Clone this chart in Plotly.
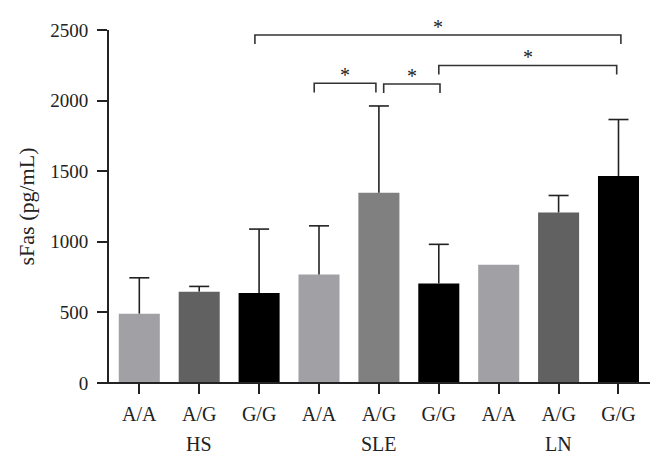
import plotly.graph_objects as go

# ---- data ----
genotypes = ["A/A", "A/G", "G/G", "A/A", "A/G", "G/G", "A/A", "A/G", "G/G"]
groups = ["HS", "SLE", "LN"]
means = [491, 647, 637, 768, 1348, 705, 838, 1208, 1466]
sd_upper = [254, 37, 453, 345, 614, 277, 0, 120, 400]
bar_colors = ["#a1a1a5", "#616161", "#000000", "#a1a1a5", "#808080", "#000000",
              "#a1a1a5", "#616161", "#000000"]
# significance comparisons: (left index, right index, bracket level)
comparisons = [(2, 8, 2465), (5, 8, 2249), (3, 4, 2123), (4, 5, 2118)]
comp_labels = ["*", "*", "*", "*"]

# ---- styling ----
end_trim = [(-0.07, 0.04), (0.0, -0.03), (-0.08, -0.05), (0.08, 0.02)]
leg_len = 65
cap_half = 0.167
serif = "Liberation Serif"
ink = "#222222"

x = list(range(len(means)))

fig = go.Figure()
fig.add_trace(go.Bar(
    x=x, y=means, width=0.685,
    marker=dict(color=bar_colors, line=dict(width=0)),
    hoverinfo="skip", showlegend=False,
))

# upper-only error bars
ex, ey = [], []
for xi, m, e in zip(x, means, sd_upper):
    if e <= 0:
        continue
    ex += [xi, xi, None, xi - cap_half, xi + cap_half, None]
    ey += [m, m + e, None, m + e, m + e, None]
fig.add_trace(go.Scatter(
    x=ex, y=ey, mode="lines", line=dict(color=ink, width=1.6),
    hoverinfo="skip", showlegend=False, cliponaxis=False,
))

# significance brackets
for (a, b, lvl), (ta, tb), lab in zip(comparisons, end_trim, comp_labels):
    xa, xb = a + ta, b + tb
    fig.add_trace(go.Scatter(
        x=[xa, xa, xb, xb], y=[lvl - leg_len, lvl, lvl, lvl - leg_len],
        mode="lines", line=dict(color="#333333", width=1.6),
        hoverinfo="skip", showlegend=False, cliponaxis=False,
    ))
    fig.add_annotation(
        x=(xa + xb) / 2, y=lvl, text=lab, showarrow=False,
        yanchor="bottom", yshift=-5, font=dict(family=serif, size=20, color=ink),
    )

# group labels
for gi, g in enumerate(groups):
    fig.add_annotation(
        x=gi * 3 + 1, y=0, yref="paper", text=g, showarrow=False,
        yanchor="top", yshift=-48, font=dict(family=serif, size=20, color=ink),
    )

# x axis line extending slightly left of the y axis
fig.add_shape(type="line", xref="paper", yref="paper", x0=-10 / 541, x1=1, y0=0, y1=0,
              line=dict(color=ink, width=1.8))

# the page body adds an 8px offset; margins compensate for it
fig.update_layout(
    width=664, height=465,
    margin=dict(l=101, r=22, t=16, b=90),
    plot_bgcolor="white", paper_bgcolor="white",
    font=dict(family=serif, size=19, color=ink),
    xaxis=dict(
        range=[-0.506, 8.526], tickmode="array", tickvals=x, ticktext=genotypes,
        ticks="outside", ticklen=10, tickwidth=1.6, tickcolor=ink,
        showline=False, showgrid=False, zeroline=False, ticklabelstandoff=3,
        tickfont=dict(family=serif, size=20, color=ink),
    ),
    yaxis=dict(
        range=[0, 2500], tickvals=[0, 500, 1000, 1500, 2000, 2500],
        ticks="outside", ticklen=10, tickwidth=1.6, tickcolor=ink,
        showline=True, linecolor=ink, linewidth=1.8,
        showgrid=False, zeroline=False, ticklabelstandoff=5,
        tickfont=dict(family=serif, size=19, color=ink),
        title=dict(text="sFas (pg/mL)", standoff=10,
                   font=dict(family=serif, size=22, color=ink)),
    ),
)

fig.write_html("out.html")
